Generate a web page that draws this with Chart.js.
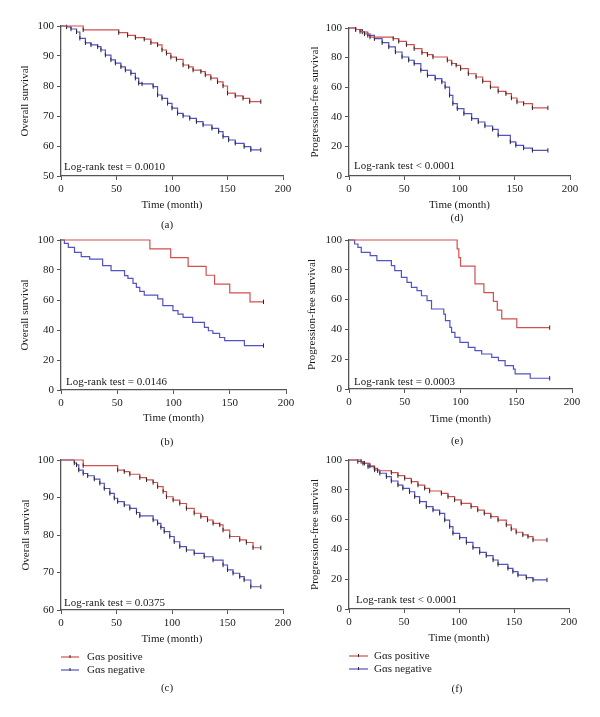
<!DOCTYPE html>
<html>
<head>
<meta charset="utf-8">
<script src="https://cdn.jsdelivr.net/npm/chart.js@4.4.0/dist/chart.umd.min.js"></script>
<style>
  body { margin: 0; background: #fff; }
  #wrap { position: relative; width: 600px; height: 717px; overflow: hidden; background: #fff; }
  #wrap canvas { position: absolute; }
</style>
</head>
<body>
<div id="wrap"></div>
<script>
// time (month) and survival (%), one pair of arrays per line
const aPosT = [0, 20, 52, 60, 67, 75, 81, 87, 91, 95, 99, 104, 110, 115, 119, 126, 130, 135, 141, 146, 150, 157, 164, 170, 180];
const aPosS = [100, 98.7, 97.8, 96.9, 96.1, 95.6, 94.4, 93.7, 92.0, 90.9, 89.6, 88.9, 87.0, 86.4, 85.3, 84.8, 83.7, 82.6, 81.4, 80.0, 77.6, 76.7, 75.9, 74.8, 74.8];
const aNegT = [0, 5, 9, 14, 17, 22, 27, 33, 36, 40, 45, 49, 54, 58, 63, 67, 70, 73, 83, 87, 91, 96, 100, 105, 110, 116, 122, 128, 136, 142, 146, 151, 157, 165, 171, 180];
const aNegS = [100, 99.7, 99.0, 98.0, 95.9, 94.4, 93.7, 93.1, 92.0, 90.3, 88.7, 87.6, 86.4, 85.3, 84.2, 82.6, 80.9, 80.7, 79.8, 77.0, 75.9, 74.2, 72.6, 70.9, 70.0, 69.2, 68.1, 67.0, 65.9, 64.8, 63.1, 62.0, 60.9, 59.8, 58.7, 58.7];

const dPosT = [0, 6, 10, 14, 19, 40, 45, 52, 59, 66, 71, 76, 89, 93, 97, 101, 108, 115, 121, 128, 135, 142, 147, 152, 158, 166, 180];
const dPosS = [100, 99, 97.6, 96, 93.9, 92.8, 91, 88.7, 86, 83.3, 82, 80.4, 78.2, 76, 74.8, 72.5, 69.1, 66.9, 64, 60.1, 57.2, 55.6, 52.7, 50, 48.9, 46, 46];
const dNegT = [0, 6, 12, 17, 23, 30, 36, 42, 48, 54, 59, 65, 71, 78, 84, 87, 91, 94, 98, 104, 111, 117, 123, 130, 135, 146, 151, 158, 166, 180];
const dNegS = [100, 99, 97.3, 95, 92.8, 90.1, 87.2, 83.8, 80.4, 78.2, 75.9, 71.4, 68, 65.8, 63.5, 60.1, 54.5, 48.9, 45.5, 42.1, 38.7, 36.5, 33.8, 31.5, 27.5, 23, 20.7, 18.9, 17.3, 17.3];

const bPosT = [0, 79, 97.5, 113, 129, 136.5, 150, 168, 180];
const bPosS = [100, 94.1, 88.2, 82.4, 76.5, 70.6, 64.7, 58.8, 58.8];
const bNegT = [0, 3, 6.5, 12, 18, 25.5, 37, 44.5, 56.5, 59.5, 64, 67, 70, 74, 86, 90.5, 99.5, 104, 108.5, 117, 127.5, 131, 135, 141, 145.5, 163, 180];
const bNegS = [100, 97.8, 95.1, 91.8, 88.9, 87.3, 82.9, 79.6, 76.2, 74.4, 71.1, 68.4, 65.8, 63.3, 60.7, 56.2, 52.9, 50.6, 48.4, 45.1, 41.8, 39.5, 37.8, 35, 32.9, 29.6, 29.6];

const ePosT = [0, 97, 98.5, 100, 113, 121, 129.5, 133, 137, 150.5, 180];
const ePosS = [100, 94.1, 88.2, 82.4, 70.6, 64.7, 58.8, 52.9, 47.1, 41.2, 41.2];
const eNegT = [0, 5, 8, 11, 19, 25, 38, 41, 47, 52, 56, 61, 65, 70, 74, 85, 86.5, 90.5, 92, 95, 99.5, 107, 113, 119, 128, 134, 140, 147.5, 149, 162.5, 180];
const eNegS = [100, 97.3, 95, 91.7, 89.5, 86.1, 82.8, 79.4, 74.9, 71.6, 68.2, 66, 62.6, 59.3, 53.7, 50.3, 45.9, 41.4, 38, 34.7, 31.3, 27.9, 25.7, 23.5, 21.2, 19, 15.7, 13.4, 10.1, 7.2, 7.2];

const cPosT = [0, 20, 51, 57, 62, 71, 77, 83, 87, 92, 95, 101, 107, 113, 120, 126, 132, 137, 143, 146, 152, 161, 167, 173, 180];
const cPosS = [100, 98.5, 97.3, 96.9, 96.2, 95.3, 94.7, 94, 92.9, 91.6, 90.2, 89.3, 88.4, 87.1, 85.8, 84.9, 84, 83.1, 82.7, 81.3, 79.6, 78.7, 78, 76.6, 76.6];
const cNegT = [0, 12, 14, 16, 20, 24, 30, 35, 39, 44, 48, 51, 57, 62, 68, 71, 83, 87, 90, 93, 98, 102, 107, 113, 120, 129, 137, 146, 150, 155, 161, 165, 171, 180];
const cNegS = [100, 99.2, 98.7, 97.3, 96.4, 95.8, 94.9, 93.8, 92.4, 91.1, 89.8, 88.9, 88, 87.1, 86, 85.1, 84, 83.1, 82, 80.9, 79.6, 78.2, 76.9, 76, 75.1, 74.2, 73.3, 72, 70.7, 69.8, 68.9, 68, 66.2, 66.2];

const fPosT = [0, 11, 14, 19, 23, 26, 38.5, 44.5, 50.6, 56.7, 62.7, 68.8, 73.3, 84, 90, 96, 102, 111, 117, 123, 129, 135.5, 143, 147.5, 152, 158, 162.7, 167.3, 180];
const fPosS = [100, 99, 97.8, 96, 94.4, 92.8, 91.5, 89.5, 87.7, 85.5, 83.2, 81, 79.2, 77.6, 75.4, 73.2, 70.9, 68.7, 66.4, 64.2, 62, 59.7, 56.4, 53.7, 51.5, 49.7, 48.6, 46.3, 46.3];
const fNegT = [0, 8, 12.7, 17.3, 23.3, 28, 34, 38.5, 44.5, 49, 55, 59.7, 64.2, 70.3, 76.4, 82.4, 87, 91.5, 94.5, 100.6, 106.7, 112.7, 118.8, 124.8, 131, 135.5, 144.5, 149, 153.6, 161.2, 167.3, 180];
const fNegS = [100, 99, 97.8, 95.5, 93.3, 91.1, 88.8, 85.9, 83.2, 81, 78.7, 75.4, 72, 68.7, 66.4, 64.2, 59.7, 55.3, 50.8, 47.9, 44.7, 41.2, 38, 35.8, 32.9, 30, 27.3, 25.1, 22.8, 21, 19.5, 19.5];

const seriesLabels = ['Gαs positive', 'Gαs negative'];
const xRange = [0, 200, 50];
const osTitle = 'Overall survival';
const pfsTitle = 'Progression-free survival';
const xTitle = 'Time (month)';

const FONT = '"Liberation Serif", "Times New Roman", serif';
const TEXT = '#1a1a1a';
const RED = '#cf5050';
const BLUE = '#5252c2';
const MARK = '#2a2a2a';
const AXIS = '#555';

function toPoints(t, s) {
    return t.map((x, i) => ({ x: x, y: s[i] }));
}

// log-rank text, panel letter and the legend under the bottom row
const panelText = {
    id: 'panelText',
    afterDraw(chart, args, o) {
        const ctx = chart.ctx;
        const area = chart.chartArea;
        ctx.save();
        ctx.font = '11px ' + FONT;
        ctx.fillStyle = TEXT;
        ctx.textBaseline = 'middle';
        ctx.textAlign = 'left';
        ctx.fillText(o.logrank, area.left + o.lrDx, area.bottom - o.lrDy);
        ctx.textAlign = 'center';
        ctx.fillText(o.caption, o.capX, o.capY);
        if (o.legend) {
            chart.data.datasets.forEach((ds, i) => {
                const y = o.legend.y[i];
                ctx.strokeStyle = ds.borderColor;
                ctx.lineWidth = 1.2;
                ctx.beginPath();
                ctx.moveTo(o.legend.x1, y);
                ctx.lineTo(o.legend.x2, y);
                ctx.stroke();
                ctx.strokeStyle = MARK;
                ctx.lineWidth = 1;
                ctx.beginPath();
                const mid = (o.legend.x1 + o.legend.x2) / 2;
                ctx.moveTo(mid, y - 2);
                ctx.lineTo(mid, y + 1);
                ctx.stroke();
                ctx.textAlign = 'left';
                ctx.fillStyle = TEXT;
                ctx.fillText(ds.label, o.legend.tx, y);
            });
        }
        ctx.restore();
    }
};

function makePanel(p) {
    const canvas = document.createElement('canvas');
    canvas.width = 300;
    canvas.height = p.h;
    canvas.style.left = p.left + 'px';
    canvas.style.top = p.top + 'px';
    document.getElementById('wrap').appendChild(canvas);

    function line(label, t, s, color) {
        const n = t.length;
        return {
            label: label,
            data: toPoints(t, s),
            borderColor: color,
            backgroundColor: color,
            borderWidth: 1.2,
            stepped: true,
            fill: false,
            clip: false,
            pointStyle: 'line',
            rotation: 90,
            pointBorderColor: MARK,
            pointBorderWidth: 1,
            // censor ticks; the sparse panels only mark the last patient
            pointRadius: c => {
                if (c.dataIndex === 0) return 0;
                return (p.dense || c.dataIndex === n - 1) ? 2.2 : 0;
            }
        };
    }

    new Chart(canvas, {
        type: 'line',
        data: {
            datasets: [
                line(seriesLabels[0], p.pos[0], p.pos[1], RED),
                line(seriesLabels[1], p.neg[0], p.neg[1], BLUE)
            ]
        },
        options: {
            responsive: false,
            animation: false,
            devicePixelRatio: 1,
            layout: { padding: p.pad },
            plugins: {
                legend: { display: false },
                tooltip: { enabled: false },
                panelText: p.text
            },
            scales: {
                x: {
                    type: 'linear',
                    min: xRange[0],
                    max: xRange[1],
                    ticks: { stepSize: xRange[2], padding: 3, color: TEXT, font: { family: FONT, size: 11 } },
                    grid: { drawOnChartArea: false, tickLength: 4, color: AXIS },
                    border: { color: AXIS, width: 1.3 },
                    title: { display: true, text: xTitle, color: TEXT, font: { family: FONT, size: 11 }, padding: { top: 0, bottom: p.xTitlePad } },
                    afterFit: s => { s.height = 40; s.paddingLeft = 0; s.paddingRight = 0; }
                },
                y: {
                    type: 'linear',
                    min: p.y[0],
                    max: p.y[1],
                    ticks: { stepSize: p.y[2], padding: 3, color: TEXT, font: { family: FONT, size: 11 } },
                    grid: { drawOnChartArea: false, tickLength: 4, color: AXIS },
                    border: { color: AXIS, width: 1.3 },
                    title: { display: true, text: p.yTitle, color: TEXT, font: { family: FONT, size: 11 }, padding: { top: p.yTitlePad, bottom: 0 } },
                    afterFit: s => { s.width = p.yW; s.paddingTop = 0; s.paddingBottom = 0; }
                }
            }
        },
        plugins: [panelText]
    });
}

makePanel({
    left: 0, top: 0, h: 236, pad: { left: 0, top: 26, right: 17, bottom: 20 }, yW: 61,
    y: [50, 100, 10], yTitle: osTitle, yTitlePad: 19, xTitlePad: 4.4, dense: true,
    pos: [aPosT, aPosS], neg: [aNegT, aNegS],
    text: { logrank: 'Log-rank test = 0.0010', lrDx: 3, lrDy: 9, caption: '(a)', capX: 167, capY: 225 }
});
makePanel({
    left: 300, top: 0, h: 236, pad: { left: 0, top: 28, right: 30, bottom: 20 }, yW: 49,
    y: [0, 100, 20], yTitle: pfsTitle, yTitlePad: 8.4, xTitlePad: 4.4, dense: true,
    pos: [dPosT, dPosS], neg: [dNegT, dNegS],
    text: { logrank: 'Log-rank test < 0.0001', lrDx: 5, lrDy: 10, caption: '(d)', capX: 157, capY: 218 }
});
makePanel({
    left: 0, top: 228, h: 228, pad: { left: 0, top: 12, right: 14, bottom: 26 }, yW: 61,
    y: [0, 100, 20], yTitle: osTitle, yTitlePad: 19, xTitlePad: 5.4, dense: false,
    pos: [bPosT, bPosS], neg: [bNegT, bNegS],
    text: { logrank: 'Log-rank test = 0.0146', lrDx: 5, lrDy: 8, caption: '(b)', capX: 167, capY: 214 }
});
makePanel({
    left: 300, top: 228, h: 228, pad: { left: 0, top: 12, right: 28, bottom: 27 }, yW: 49,
    y: [0, 100, 20], yTitle: pfsTitle, yTitlePad: 6, xTitlePad: 3.4, dense: false,
    pos: [ePosT, ePosS], neg: [eNegT, eNegS],
    text: { logrank: 'Log-rank test = 0.0003', lrDx: 5, lrDy: 7, caption: '(e)', capX: 157, capY: 213 }
});
makePanel({
    left: 0, top: 450, h: 267, pad: { left: 0, top: 10, right: 17, bottom: 67 }, yW: 61,
    y: [60, 100, 10], yTitle: osTitle, yTitlePad: 20, xTitlePad: 4.4, dense: true,
    pos: [cPosT, cPosS], neg: [cNegT, cNegS],
    text: { logrank: 'Log-rank test = 0.0375', lrDx: 3, lrDy: 7, caption: '(c)', capX: 167, capY: 238,
            legend: { x1: 61, x2: 79, tx: 87, y: [207, 220] } }
});
makePanel({
    left: 300, top: 450, h: 267, pad: { left: 0, top: 10, right: 31, bottom: 68 }, yW: 49,
    y: [0, 100, 20], yTitle: pfsTitle, yTitlePad: 9, xTitlePad: 4.1, dense: true,
    pos: [fPosT, fPosS], neg: [fNegT, fNegS],
    text: { logrank: 'Log-rank test < 0.0001', lrDx: 7, lrDy: 9, caption: '(f)', capX: 157, capY: 239,
            legend: { x1: 49, x2: 68, tx: 74, y: [206, 219] } }
});
</script>
</body>
</html>
